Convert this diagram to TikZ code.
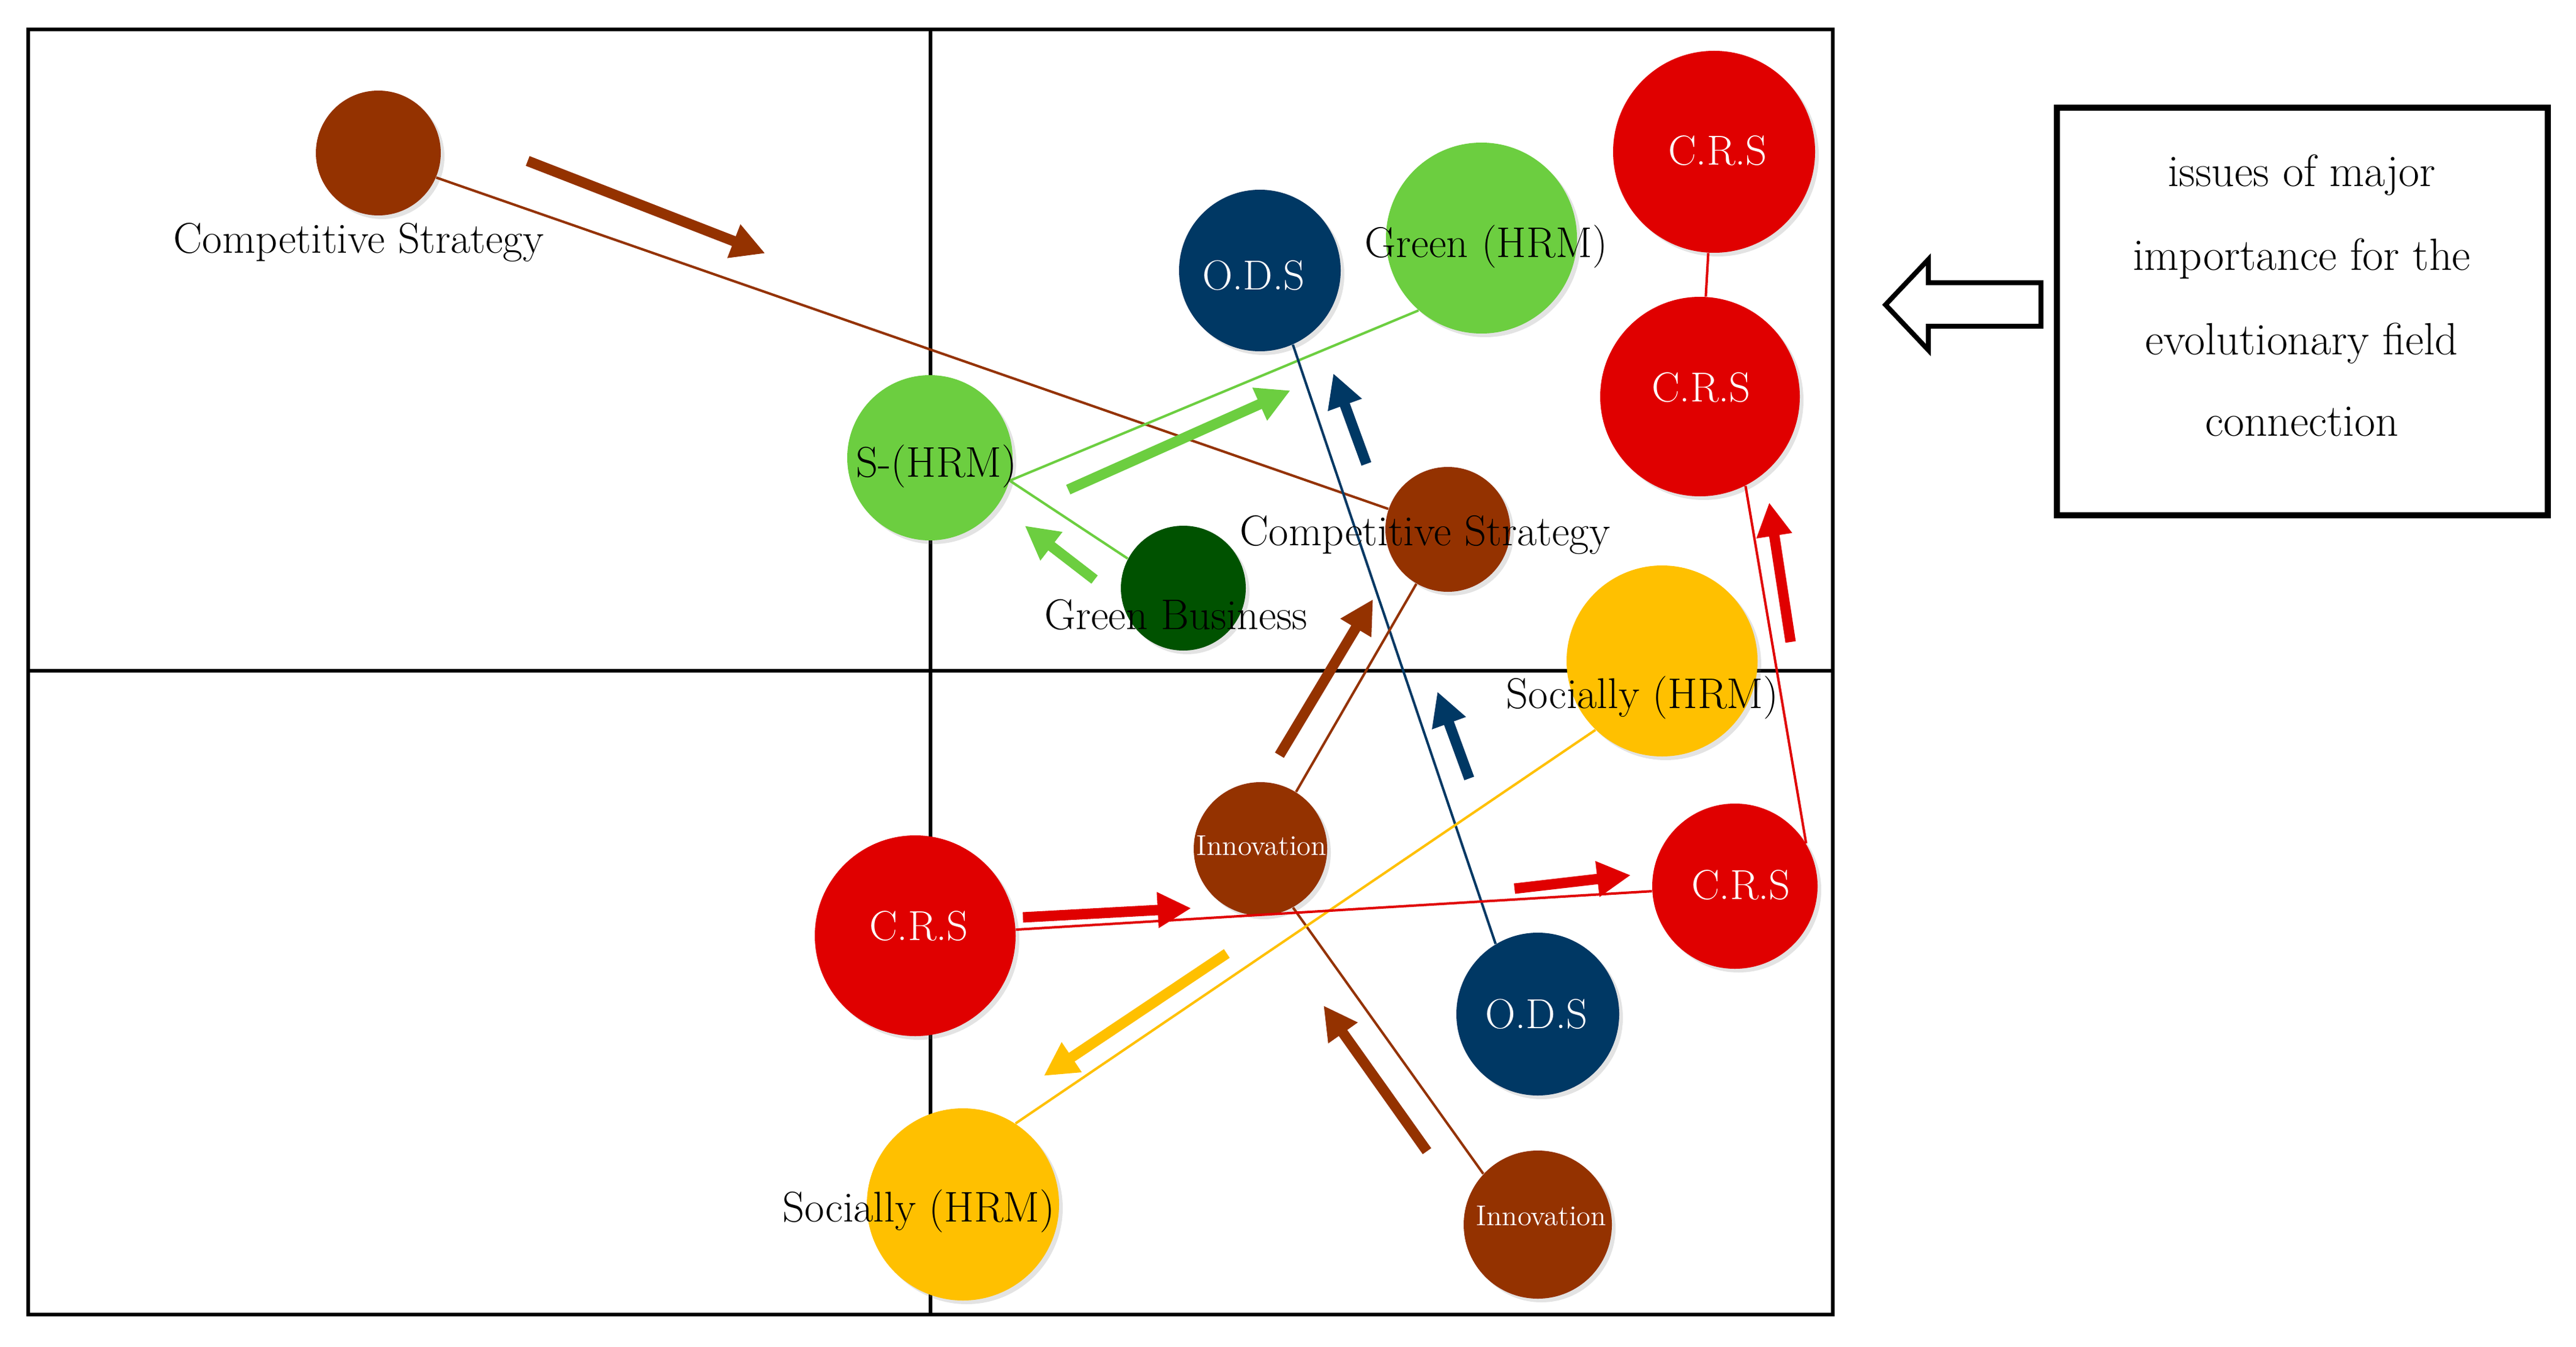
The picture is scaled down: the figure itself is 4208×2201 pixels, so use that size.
\documentclass[tikz,border=0pt]{standalone}
\usetikzlibrary{arrows.meta,shadows}
\definecolor{cbrown}{RGB}{148,50,0}
\definecolor{cred}{RGB}{224,0,0}
\definecolor{cgreen}{RGB}{108,206,64}
\definecolor{cdgreen}{RGB}{0,82,0}
\definecolor{cnavy}{RGB}{0,56,100}
\definecolor{cyellow}{RGB}{255,192,0}
\begin{document}
\begin{tikzpicture}[x=0.1mm,y=-0.1mm,
  bub/.style={circle,inner sep=0pt,draw=none,drop shadow={shadow xshift=0.6mm,shadow yshift=-0.6mm,opacity=0.22}},
  lbl/.style={font=\fontsize{20}{22}\selectfont,inner sep=0pt,anchor=base},
  wlbl/.style={lbl,text=white,font=\fontsize{19.5}{22}\selectfont},
  ilbl/.style={lbl,text=white,font=\fontsize{13.3}{15}\selectfont},
  boxtxt/.style={inner sep=0pt,anchor=base,font=\fontsize{21}{24}\selectfont},
  link/.style={line width=0.4mm},
  bigarrow/.style={line width=1.7mm,-{Triangle[length=5.5mm,width=5.5mm]}},
  frameline/.style={line width=0.6mm}
]
\useasboundingbox (0,0) rectangle (4208,2201);
% frame
\coordinate (fTL) at (46,48);
\coordinate (fBR) at (2994,2148);
\draw[frameline] (fTL) rectangle (fBR);
\draw[frameline] (1520,48) -- (1520,2148);
\draw[frameline] (46,1096) -- (2994,1096);

% circles
\node[bub,fill=cbrown,minimum size=20.4mm] (cs1) at (618,250) {};
\node[bub,fill=cgreen,minimum size=27mm] (shrm) at (1519,748) {};
\node[bub,fill=cnavy,minimum size=26.4mm] (odsT) at (2058,442) {};
\node[bub,fill=cgreen,minimum size=31.2mm] (ghrm) at (2420,389) {};
\node[bub,fill=cred,minimum size=33mm] (crsT) at (2800,248) {};
\node[bub,fill=cred,minimum size=32.6mm] (crsM) at (2777,648) {};
\node[bub,fill=cbrown,minimum size=20.4mm] (cs2) at (2365,865) {};
\node[bub,fill=cdgreen,minimum size=20.4mm] (gb) at (1933,961) {};
\node[bub,fill=cyellow,minimum size=31.2mm] (socU) at (2715,1080) {};
\node[bub,fill=cred,minimum size=27mm] (crsR) at (2834,1448) {};
\node[bub,fill=cnavy,minimum size=26.6mm] (odsL) at (2512,1657) {};
\node[bub,fill=cbrown,minimum size=24.2mm] (innL) at (2512,2001) {};
\node[bub,fill=cbrown,minimum size=21.8mm] (innU) at (2059,1387) {};
\node[bub,fill=cred,minimum size=32.8mm] (crsL) at (1495,1529) {};
\node[bub,fill=cyellow,minimum size=31.4mm] (socL) at (1573,1968) {};

% connectors
\draw[link,cbrown] (cs1.-23) -- (cs2.161);
\draw[link,cgreen] (shrm.-16) -- (ghrm.-131);
\draw[link,cgreen] (shrm.-16) -- (gb.152);
\draw[link,cnavy] (odsT.-66) -- (odsL.121);
\draw[link,cbrown] (innU.58) -- (cs2.-120);
\draw[link,cbrown] (innU.-61) -- (innL.137);
\draw[link,cyellow] (socL.57) -- (socU.-134);
\draw[link,cred] (crsL) -- (crsR);
\draw[link,cred] (crsR.31) -- (crsM.-63);
\draw[link,cred] (crsT) -- (crsM);

% thick direction arrows
\draw[bigarrow,cbrown] (862,263) -- (1250,414);
\draw[bigarrow,cgreen] (1745,800) -- (2108,638);
\draw[bigarrow,cgreen] (1788,947) -- (1674,859);
\draw[bigarrow,cnavy] (2232,758) -- (2178,610);
\draw[bigarrow,cbrown] (2090,1234) -- (2243,979);
\draw[bigarrow,cred] (2925,1049) -- (2890,821);
\draw[bigarrow,cnavy] (2400,1272) -- (2348,1130);
\draw[bigarrow,cred] (1671,1499) -- (1946,1484);
\draw[bigarrow,cred] (2474,1452) -- (2664,1430);
\draw[bigarrow,cyellow] (2004,1558) -- (1705,1758);
\draw[bigarrow,cbrown] (2331,1881) -- (2162,1643);

% labels
\node[lbl] (cs1l) at (586,414) {Competitive Strategy};
\node[lbl] (ghrml) at (2428,421) {Green (HRM)};
\node[lbl] (cs2l) at (2328,891) {Competitive Strategy};
\node[lbl] (gbl) at (1921,1028) {Green Business};
\node[lbl] (socUl) at (2683,1157) {Socially (HRM)};
\node[lbl] (socLl) at (1501,1996) {Socially (HRM)};
\node[lbl] (shrml) at (1530,779) {S-(HRM)};
\node[wlbl] (odsTl) at (2048,473) {O.D.S};
\node[wlbl] (crsTl) at (2806,270) {C.R.S};
\node[wlbl] (crsMl) at (2779,656) {C.R.S};
\node[wlbl] (crsRl) at (2844,1469) {C.R.S};
\node[wlbl] (odsLl) at (2510,1680) {O.D.S};
\node[wlbl] (crsLl) at (1501,1536) {C.R.S};
\node[ilbl] (innLl) at (2518,2002) {Innovation};
\node[ilbl] (innUl) at (2061,1397) {Innovation};

% legend box
\node[draw,line width=1mm,minimum width=80.2mm,minimum height=66.5mm,inner sep=0pt] (box) at (3761,509) {};
\node[boxtxt] (b1) at (3760,305) {issues of major};
\node[boxtxt] (b2) at (3760,442) {importance for the};
\node[boxtxt] (b3) at (3760,579) {evolutionary field};
\node[boxtxt] (b4) at (3760,712) {connection};

% hollow arrow
\draw[line width=0.8mm,line join=miter] (3080,498) -- (3150,424) -- (3150,462) -- (3334,462) -- (3334,533) -- (3150,533) -- (3150,572) -- cycle;
\end{tikzpicture}
\end{document}
